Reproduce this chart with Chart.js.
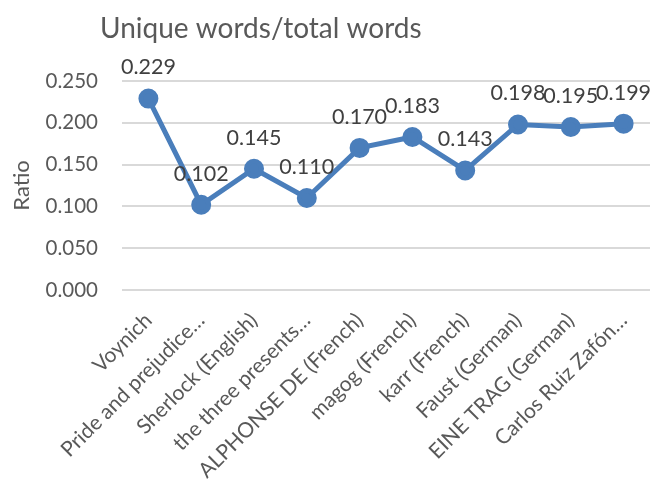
<!DOCTYPE html>
<html>
<head>
<meta charset="utf-8">
<script src="https://cdn.jsdelivr.net/npm/chart.js@4/dist/chart.umd.min.js"></script>
<style>
  html, body { margin: 0; padding: 0; background: #ffffff; }
  #wrap { width: 654px; height: 484px; }
</style>
</head>
<body>
<div id="wrap"><canvas id="chart" width="654" height="484"></canvas></div>
<script>
// Texts read by their type-token ratio
const categories = [
  'Voynich',
  'Pride and prejudice…',
  'Sherlock (English)',
  'the three presents…',
  'ALPHONSE DE (French)',
  'magog (French)',
  'karr (French)',
  'Faust (German)',
  'EINE TRAG (German)',
  'Carlos Ruiz Zafón…'
];
const ratios = [0.229, 0.102, 0.145, 0.110, 0.170, 0.183, 0.143, 0.198, 0.195, 0.199];
const yTicks = [0, 0.05, 0.10, 0.15, 0.20, 0.25];

const chartTitle = 'Unique words/total words';
const axisTitle = 'Ratio';

const FONT = 'Lato, "Open Sans", sans-serif';
const GREY = '#595959';
const LINE = '#4a7ebb';

// Custom heading, placed left of centre like the spreadsheet original
const headingPlugin = {
  id: 'heading',
  afterDraw(chart) {
    const ctx = chart.ctx;
    ctx.save();
    ctx.font = '28px ' + FONT;
    ctx.fillStyle = GREY;
    ctx.textAlign = 'left';
    ctx.textBaseline = 'alphabetic';
    ctx.fillText(chartTitle, 100, 38);
    ctx.restore();
  }
};

// Value labels above each point
const valueLabels = {
  id: 'valueLabels',
  afterDatasetsDraw(chart) {
    const ctx = chart.ctx;
    ctx.save();
    ctx.font = '21.5px ' + FONT;
    ctx.fillStyle = '#404040';
    ctx.textAlign = 'center';
    ctx.textBaseline = 'middle';
    chart.data.datasets.forEach((ds, di) => {
      chart.getDatasetMeta(di).data.forEach((pt, i) => {
        ctx.fillText(ds.data[i].toFixed(3), pt.x, pt.y - 31);
      });
    });
    ctx.restore();
  }
};

new Chart(document.getElementById('chart'), {
  type: 'line',
  data: {
    labels: categories,
    datasets: [{
      data: ratios,
      borderColor: LINE,
      backgroundColor: LINE,
      borderWidth: 5,
      pointRadius: 7.5,
      pointBackgroundColor: LINE,
      pointBorderColor: LINE,
      tension: 0,
      fill: false
    }]
  },
  options: {
    responsive: false,
    animation: false,
    layout: { autoPadding: false, padding: { top: 81, right: 4, bottom: 0, left: 0 } },
    plugins: {
      legend: { display: false },
      title: { display: false },
      tooltip: { enabled: false }
    },
    scales: {
      x: {
        type: 'category',
        offset: true,
        grid: { display: false, drawTicks: false },
        border: { display: false },
        afterFit(axis) {
          axis.height = 194;
          axis.paddingLeft = 0;
          axis.paddingRight = 0;
        },
        ticks: {
          color: GREY,
          font: { family: FONT, size: 21 },
          minRotation: 45,
          maxRotation: 45,
          autoSkip: false,
          padding: 18
        }
      },
      y: {
        min: 0,
        max: 0.25,
        afterBuildTicks(axis) {
          axis.ticks = yTicks.map(v => ({ value: v }));
        },
        afterFit(axis) { axis.width = 122; },
        grid: { color: '#d9d9d9', lineWidth: 2, drawTicks: false },
        border: { display: false },
        ticks: {
          color: GREY,
          font: { family: FONT, size: 20.5 },
          padding: 24,
          callback: v => Number(v).toFixed(3)
        },
        title: {
          display: true,
          text: axisTitle,
          color: GREY,
          font: { family: FONT, size: 22 },
          padding: { top: 9, bottom: 10 }
        }
      }
    }
  },
  plugins: [headingPlugin, valueLabels]
});
</script>
</body>
</html>
